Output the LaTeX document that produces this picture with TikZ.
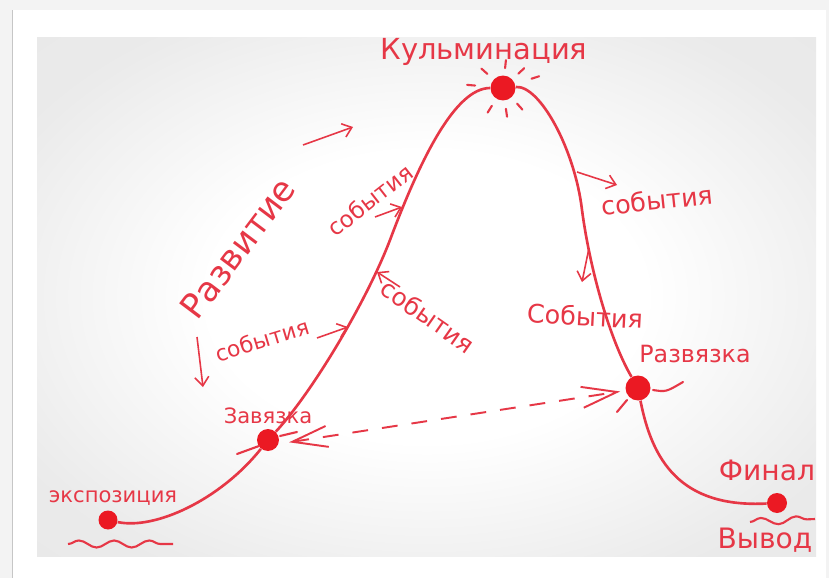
\documentclass[tikz,border=0pt]{standalone}
\usepackage{fontspec}
\setmainfont{DejaVu Sans}
\usepackage{tikz}
\usetikzlibrary{arrows.meta,decorations.pathmorphing}

\definecolor{ink}{RGB}{230,55,70}
\definecolor{dotred}{RGB}{235,25,35}
\definecolor{page}{RGB}{243,243,243}

\pgfdeclareradialshading{sheet}{\pgfpoint{0bp}{0bp}}{color(0bp)=(white); color(14bp)=(white); color(30bp)=(black!8); color(50bp)=(black!10)}

\begin{document}
\begin{tikzpicture}[x=0.02cm, y=-0.02cm,
    stage/.style={circle, fill=dotred, inner sep=0pt, minimum size=#1},
    note/.style={text=ink, inner sep=0pt, font=\fontsize{#1}{#1}\selectfont},
    plotline/.style={draw=ink, line width=1.5pt},
    evt/.style={draw=ink, line width=0.9pt, -{Straight Barb[length=5pt,width=8pt]}},
    ray/.style={draw=ink, line width=1.2pt, line cap=round},
    wave/.style={draw=ink, line width=1.2pt, decorate, decoration={snake, amplitude=2pt, segment length=20pt}},
    link/.style={draw=ink, line width=1.1pt, dash pattern=on 9pt off 8pt,
        {Straight Barb[length=20pt,width=12pt]}-{Straight Barb[length=20pt,width=12pt]}}
]

% page, card and the photo of the sheet
\useasboundingbox (0,0) rectangle (829,578);
\fill[page] (0,0) rectangle (829,578);
\fill[white] (12,10) rectangle (826,578);
\draw[gray!45] (12,10) -- (12,578);
\shade[shading=sheet] (37,37) rectangle (816,556);

% stages of the plot
\node[stage=0.38cm] (expo) at (108,520) {};
\node[stage=0.44cm] (zav) at (268,440) {};
\node[stage=0.5cm] (kulm) at (503,88) {};
\node[stage=0.5cm] (razv) at (638,388) {};
\node[stage=0.4cm] (final) at (777,503) {};
\coordinate (rise) at (390,240);
\coordinate (fall) at (582,210);

% the curve
\draw[plotline] (expo) .. controls (155,530) and (220,500) .. (zav);
\draw[plotline] (zav) .. controls (310,395) and (365,305) .. (rise)
    .. controls (420,160) and (455,88) .. (kulm);
\draw[plotline] (kulm) .. controls (540,85) and (575,150) .. (fall)
    .. controls (590,270) and (610,340) .. (razv);
\draw[plotline] (razv) .. controls (652,460) and (680,508) .. (final);

% rays round the dots
\foreach \a/\r in {222/21, 276/20, 317/21, 342/30, 185/28, 122/21, 82/21, 48/21}
    \draw[ray] ([shift={(\a:\r)}]kulm.center) -- ([shift={(\a:\r+8)}]kulm.center);
\draw[ray] (237,454) -- (259,446);
\draw[ray] (280,436) -- (297,432);
\draw[ray] (653,390) .. controls (666,392) .. (683,382);
\draw[ray] (617,412) -- (627,400);

% labels
\node[note=16.5] (kulmtext) at (484,52) {Кульминация};
\node[note=12] (zavtext) at (268,416) {Завязка};
\node[note=12] (expotext) at (113,498) {экспозиция};
\node[note=13.5] (razvtext) at (695,354) {Развязка};
\node[note=16] (finaltext) at (767,470) {Финал};
\node[note=16] (outtext) at (765,540) {Вывод};
\node[note=19.5, rotate=53] (devtext) at (238,248) {Развитие};

% events
\node[note=13, rotate=38] (ev1) at (370,200) {события};
\node[note=12.5, rotate=17] (ev2) at (262,340) {события};
\node[note=14, rotate=-35] (ev3) at (428,316) {события};
\node[note=14.5, rotate=6] (ev4) at (657,200) {события};
\node[note=14.5, rotate=-3] (ev5) at (585,316) {События};

\coordinate (ev1a) at (375,217); \coordinate (ev1b) at (402,207);
\coordinate (ev2a) at (317,338); \coordinate (ev2b) at (348,327);
\coordinate (ev3a) at (400,287); \coordinate (ev3b) at (377,272);
\coordinate (ev4a) at (577,172); \coordinate (ev4b) at (617,185);
\coordinate (ev5a) at (589,248); \coordinate (ev5b) at (582,282);
\draw[evt] (ev1a) -- (ev1b);
\draw[evt] (ev2a) -- (ev2b);
\draw[evt] (ev3a) -- (ev3b);
\draw[evt] (ev4a) -- (ev4b);
\draw[evt] (ev5a) -- (ev5b);

% direction of the rise
\coordinate (upa) at (303,145); \coordinate (upb) at (353,127);
\coordinate (dna) at (197,337); \coordinate (dnb) at (203,387);
\draw[evt] (upa) -- (upb);
\draw[evt] (dna) -- (dnb);

% link between the knot and the outcome
\draw[link, shorten <=6pt, shorten >=3pt] (zav.-20) -- (razv.192);

% underlines
\draw[wave] (68,544) -- (173,544);
\draw[wave] (750,522) -- (815,519);

\end{tikzpicture}
\end{document}
